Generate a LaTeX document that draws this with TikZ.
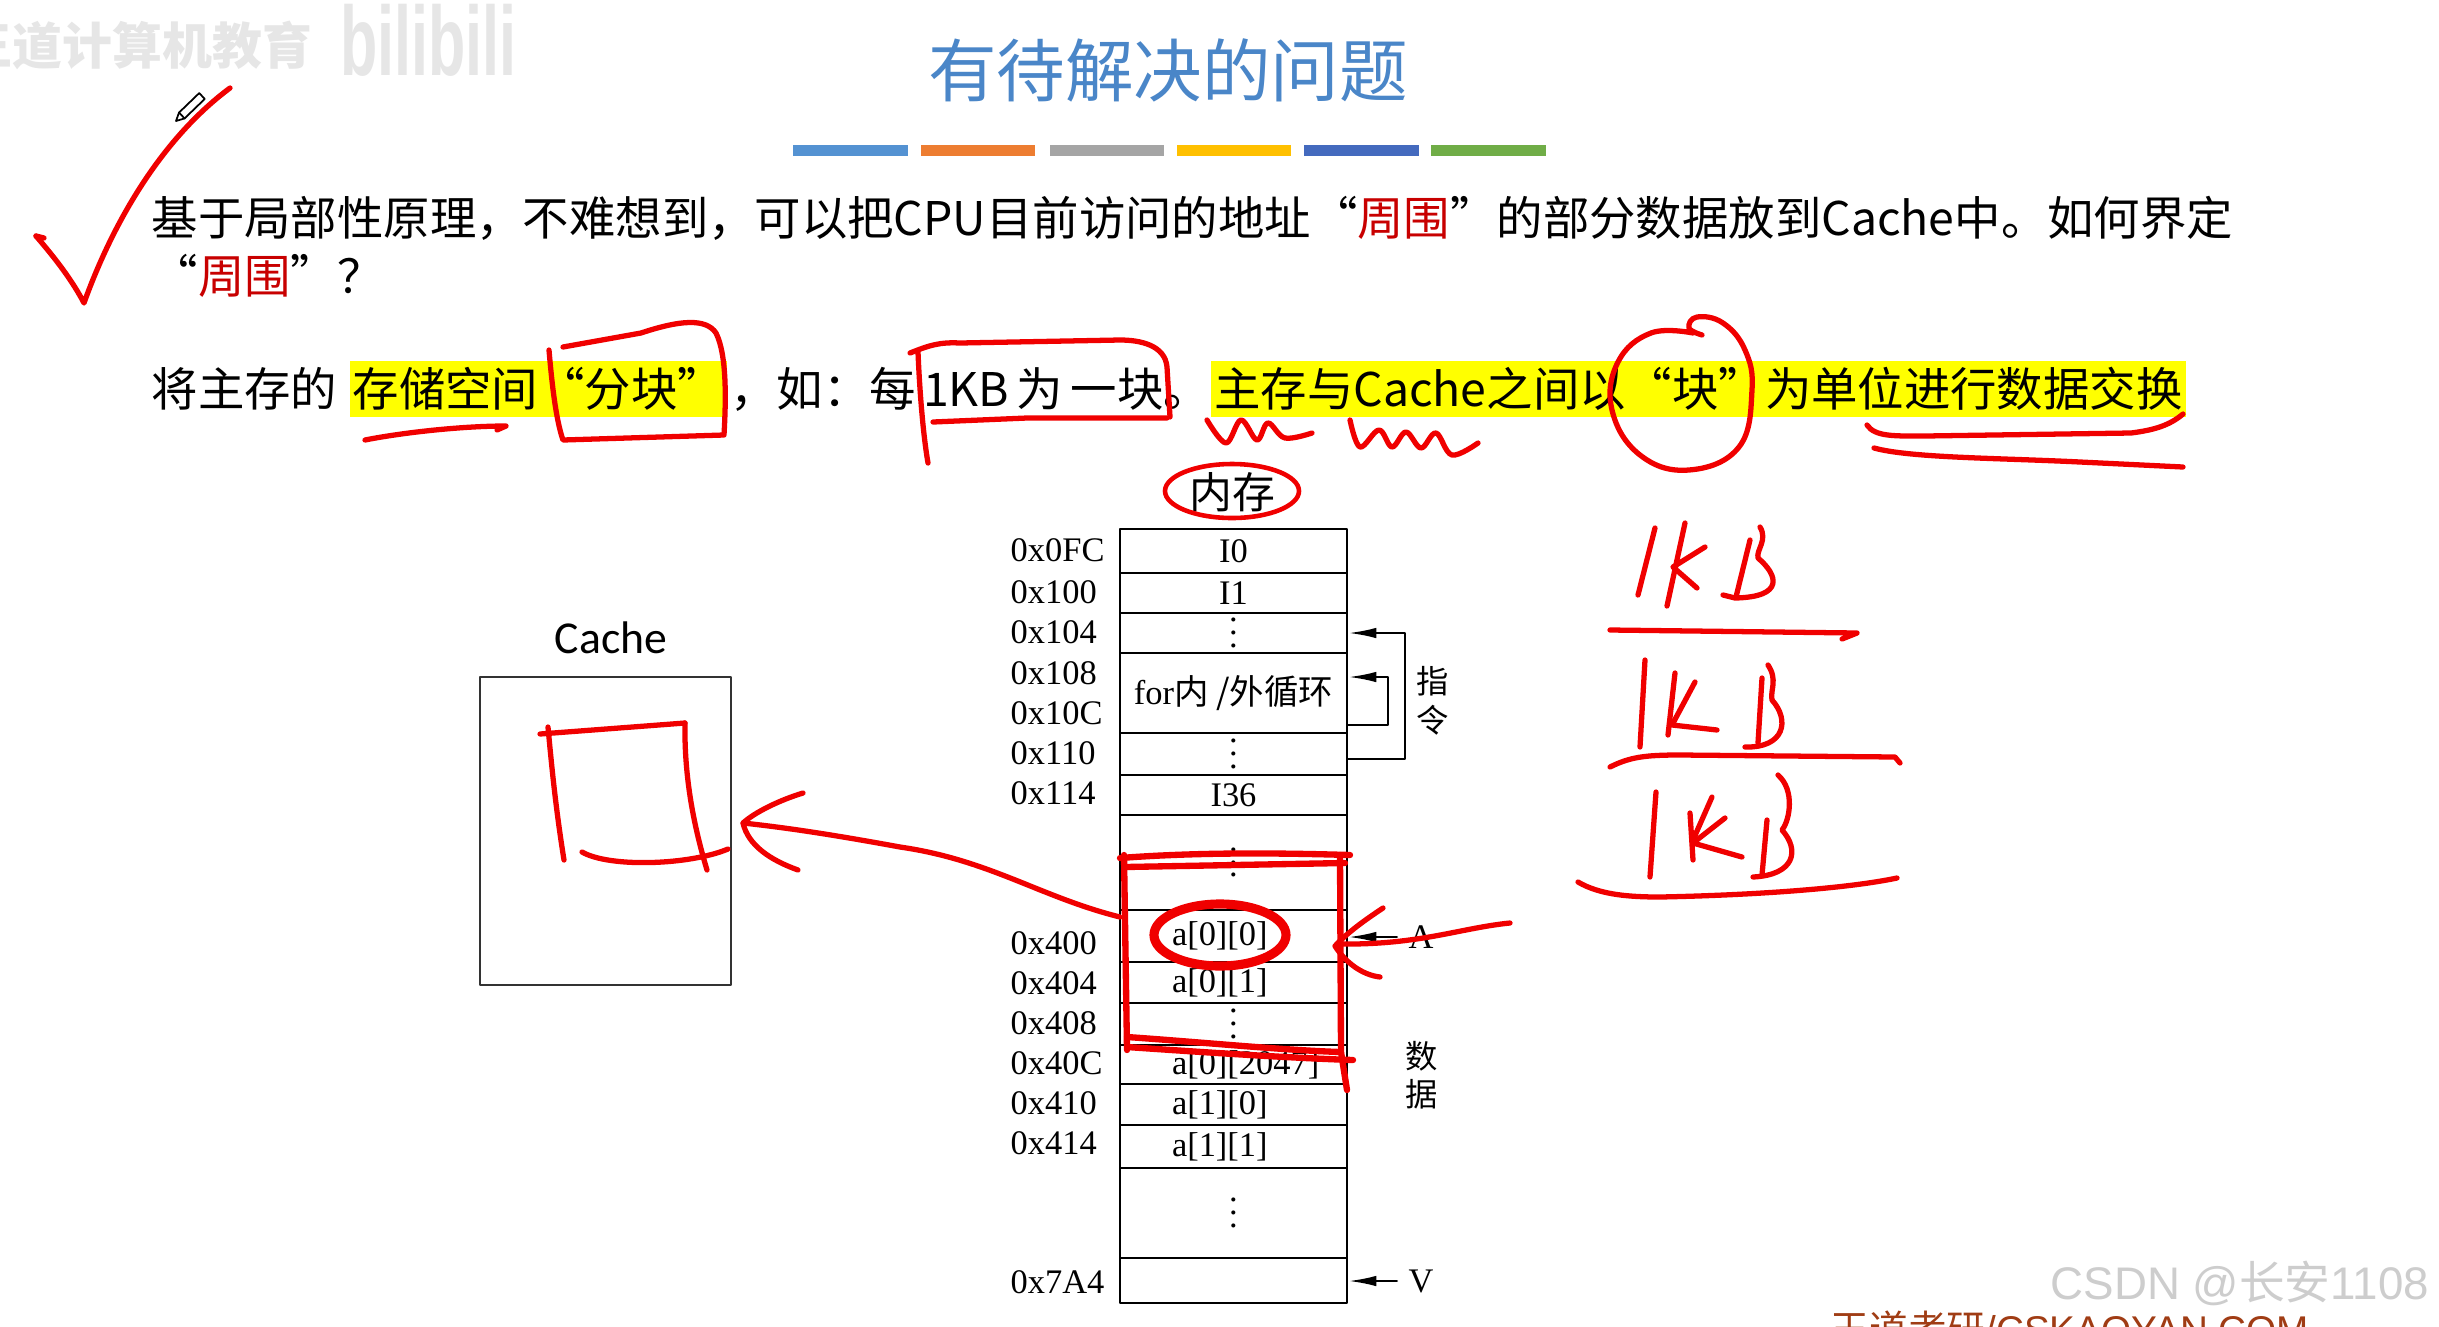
\documentclass[tikz,border=0pt]{standalone}
\usepackage{fontspec}
\setmainfont{Liberation Serif}
\newfontfamily\cjk{Noto Sans CJK SC}
\newfontfamily\calibri{Carlito}
\newfontfamily\arialsans{Liberation Sans}
\usetikzlibrary{arrows.meta,positioning}
\definecolor{titleblue}{RGB}{74,134,200}
\definecolor{barblue}{RGB}{84,146,210}
\definecolor{barorange}{RGB}{237,125,49}
\definecolor{bargray}{RGB}{165,165,165}
\definecolor{bargold}{RGB}{255,192,0}
\definecolor{bardeep}{RGB}{68,106,190}
\definecolor{bargreen}{RGB}{112,173,71}
\definecolor{hiyellow}{RGB}{255,255,0}
\definecolor{txtred}{RGB}{200,0,0}
\definecolor{inkred}{RGB}{240,0,0}
\definecolor{wmgray}{RGB}{230,230,230}
\definecolor{csdngray}{RGB}{205,205,205}
\definecolor{brandbrown}{RGB}{160,60,20}
\newcommand{\memsize}{\fontsize{9.8}{11}\selectfont}
\newcommand{\vdotcol}{\vbox{\baselineskip3.6pt\lineskiplimit0pt\hbox{.}\hbox{.}\hbox{.}}}

\begin{document}
\begin{tikzpicture}[x=0.1mm,y=-0.1mm,line cap=round,line join=round,
  every node/.style={inner sep=0pt},
  body/.style={font=\cjk\fontsize{13.2}{16}\selectfont,anchor=west},
  hilite/.style={fill=hiyellow,minimum height=5.6mm,inner xsep=0.3mm},
  cell/.style={draw,line width=0.7pt,minimum width=22.7mm,font=\memsize},
  datacell/.style={cell,text width=12.3mm,inner xsep=5.2mm,align=left},
  addr/.style={anchor=west,font=\memsize},
  ptr/.style={-{Latex[length=8pt,width=3pt]},line width=0.7pt},
  ink/.style={draw=inkred,line width=1.5pt}]
  \fill[white] (0,0) rectangle (2439,1326);
  \useasboundingbox (0,0) rectangle (2439,1326);

  % 水印
  \node[anchor=west,font=\cjk\bfseries\fontsize{14.2}{16}\selectfont,text=wmgray] (wmcn) at (-38,45) {王道计算机教育};
  \node[anchor=west,font=\arialsans\bfseries\fontsize{28}{30}\selectfont,text=wmgray,xscale=0.62] (wmbili) at (340,40) {bilibili};
  \node[anchor=west,font=\arialsans\fontsize{13}{15}\selectfont,text=csdngray] (csdn) at (2050,1283) {CSDN @{\cjk 长安}1108};
  \node[anchor=base west,font=\cjk\fontsize{11}{13}\selectfont,text=brandbrown] (brand) at (1830,1343) {王道考研{\arialsans /CSKAOYAN.COM}};

  % 标题与色条
  \node[font=\cjk\fontsize{19.5}{22}\selectfont,text=titleblue] (title) at (1168,70) {有待解决的问题};
  \fill[barblue] (793,145) rectangle (908,156);
  \fill[barorange] (921,145) rectangle (1035,156);
  \fill[bargray] (1050,145) rectangle (1164,156);
  \fill[bargold] (1177,145) rectangle (1291,156);
  \fill[bardeep] (1304,145) rectangle (1419,156);
  \fill[bargreen] (1431,145) rectangle (1546,156);

  % 正文
  \node[body] (q1) at (151,218) {基于局部性原理，不难想到，可以把CPU目前访问的地址“\textcolor{txtred}{周围}”的部分数据放到Cache中。如何界定};
  \node[body] (q1b) at (151,276) {“\textcolor{txtred}{周围}”？};
  \node[body] (s1) at (151,389) {将主存的};
  \node[body,hilite,right=1.1mm of s1] (s2) {存储空间“分块”};
  \node[body,right=0.2mm of s2] (s3) {，如：每\hspace{0.16em}1KB\hspace{0.16em}为\hspace{0.16em}一块。};
  \node[body,hilite,right=0pt of s3] (s4) {主存与Cache之间以“块”为单位进行数据交换};

  % 内存
  \node[font=\cjk\fontsize{12.2}{14}\selectfont] (memt) at (1232,492) {内存};
  \node[cell,minimum height=4.4mm] (m0) at (1233.5,551) {I0};
  \node[cell,minimum height=4.0mm] (m1) at (1233.5,593) {I1};
  \node[cell,minimum height=4.0mm] (m2) at (1233.5,633) {\vdotcol};
  \node[cell,minimum height=8.0mm] (m3) at (1233.5,693) {for{\cjk 内 /外循环}};
  \node[cell,minimum height=4.2mm] (m4) at (1233.5,754) {\vdotcol};
  \node[cell,minimum height=4.0mm] (m5) at (1233.5,795) {I36};
  \node[cell,minimum height=9.5mm] (m6) at (1233.5,862.5) {\vdotcol};
  \node[datacell,minimum height=5.2mm] (m7) at (1233.5,936) {a[0][0]};
  \node[datacell,minimum height=4.1mm] (m8) at (1233.5,982.5) {a[0][1]};
  \node[cell,minimum height=4.2mm] (m9) at (1233.5,1024) {\vdotcol};
  \node[datacell,minimum height=3.9mm] (m10) at (1233.5,1064.5) {a[0][2047]};
  \node[datacell,minimum height=4.1mm] (m11) at (1233.5,1104.5) {a[1][0]};
  \node[datacell,minimum height=4.3mm] (m12) at (1233.5,1146.5) {a[1][1]};
  \node[cell,minimum height=9.0mm] (m13) at (1233.5,1213) {\vdotcol};
  \node[cell,minimum height=4.5mm] (m14) at (1233.5,1280.5) {};

  \node[addr] (a0FC) at (1010,550) {0x0FC};
  \node[addr] (a100) at (1010,592) {0x100};
  \node[addr] (a104) at (1010,632) {0x104};
  \node[addr] (a108) at (1010,673) {0x108};
  \node[addr] (a10C) at (1010,713) {0x10C};
  \node[addr] (a110) at (1010,753) {0x110};
  \node[addr] (a114) at (1010,793) {0x114};
  \node[addr] (a400) at (1010,943) {0x400};
  \node[addr] (a404) at (1010,983) {0x404};
  \node[addr] (a408) at (1010,1023) {0x408};
  \node[addr] (a40C) at (1010,1063) {0x40C};
  \node[addr] (a410) at (1010,1103) {0x410};
  \node[addr] (a414) at (1010,1143) {0x414};
  \node[addr] (a7A4) at (1010,1282) {0x7A4};

  \draw[ptr] ([yshift=-0.5mm]m4.east) -- ++(57,0) |- (m2.east);
  \draw[ptr] ([yshift=-3.2mm]m3.east) -- ++(40,0) |- ([yshift=1.6mm]m3.east);
  \node[font=\cjk\fontsize{9.2}{11}\selectfont,align=center] (instr) at (1433,701) {指\\令};
  \node[font=\cjk\fontsize{9.2}{10.8}\selectfont,align=center] (datal) at (1422,1075) {数\\据};
  \node[font=\memsize] (lblA) at (1421,937) {A};
  \draw[ptr] ([xshift=-1.1mm]lblA.west) -- (lblA.west -| m7.east);
  \node[font=\memsize] (lblV) at (1421,1281) {V};
  \draw[ptr] ([xshift=-1.1mm]lblV.west) -- (lblV.west -| m14.east);

  % Cache
  \node[draw=black!80,line width=0.8pt,minimum width=25.1mm,minimum height=30.8mm] (cache) at (605.5,831) {};
  \node[font=\calibri\fontsize{13}{15}\selectfont] (cachet) at (611,638) {Cache};

  % 红笔批注
  \draw[ink] (36,236) .. controls (55,258) and (72,280) .. (84,303) .. controls (112,225) and (160,140) .. (230,88);
  \draw[ink] (36,236) -- (44,238);
  \draw[line width=0.5pt] (176,121) -- (184.6,118.4) -- (204.8,98.9) -- (199.2,93.1) -- (179,112.6) -- cycle;
  \draw[line width=0.5pt] (184.6,118.4) -- (179,112.6);

  \draw[ink] (365,440) .. controls (400,433) and (460,426) .. (506,426) -- (497,430);
  \draw[ink] (549,350) .. controls (552,385) and (556,420) .. (563,440) -- (724,435)
    .. controls (726,400) and (727,355) .. (716,333) .. controls (706,318) and (680,320) .. (641,333) -- (563,347);
  \draw[ink] (918,352) .. controls (920,400) and (924,440) .. (928,463);
  \draw[ink] (910,353) .. controls (930,345) and (940,342) .. (960,343) -- (1120,340)
    .. controls (1140,340) and (1165,345) .. (1167,367) -- (1170,417);
  \draw[ink] (933,422) -- (1027,418) -- (1167,418);
  \draw[ink] plot[smooth,tension=0.6] coordinates {(1207,420) (1226,443) (1241,420) (1257,440) (1268,423) (1285,438) (1312,433)};
  \draw[ink] plot[smooth,tension=0.6] coordinates {(1350,420) (1360,447) (1379,430) (1392,447) (1406,432) (1421,448) (1436,433) (1452,455) (1478,443)};
  \draw[ink] plot[smooth,tension=0.7] coordinates {(1702,335) (1689,328) (1697,317) (1723,323) (1745,350) (1752,390) (1739,447) (1689,470) (1640,455) (1612,410) (1618,362) (1651,333) (1693,333)};
  \draw[ink] (1867,425) .. controls (1875,437) and (1895,436) .. (1925,436) -- (2131,433) .. controls (2155,430) and (2170,425) .. (2183,414);
  \draw[ink] (1874,448) .. controls (1910,458) and (2000,458) .. (2080,462) -- (2183,467);

  \draw[ink,line width=1.3pt] (1232,491) ellipse[x radius=6.7mm,y radius=2.7mm];

  \draw[ink,line width=1.8pt] (1120,858) .. controls (1200,852) and (1280,853) .. (1350,855);
  \draw[ink,line width=1.8pt] (1125,867) -- (1345,863);
  \draw[ink,line width=1.8pt] (1124,855) -- (1127,1050);
  \draw[ink,line width=1.8pt] (1340,855) -- (1341,1052) -- (1347,1090);
  \draw[ink,line width=1.8pt] (1127,1037) .. controls (1200,1042) and (1280,1050) .. (1340,1052);
  \draw[ink,line width=1.8pt] (1127,1047) .. controls (1200,1052) and (1290,1058) .. (1353,1060);
  \draw[ink,line width=2.6pt] (1220,935) ellipse[x radius=6.6mm,y radius=3.1mm];

  \draw[ink] (1120,917) .. controls (1040,897) and (990,860) .. (900,847) .. controls (840,836) and (790,828) .. (743,823);
  \draw[ink] (803,793) .. controls (780,800) and (755,812) .. (743,823) .. controls (748,845) and (770,860) .. (798,870);

  \draw[ink] (1510,923) .. controls (1460,928) and (1420,945) .. (1340,944);
  \draw[ink] (1383,908) .. controls (1365,920) and (1348,932) .. (1335,946) .. controls (1345,962) and (1362,975) .. (1380,977);

  \draw[ink] (540,734) -- (685,723);
  \draw[ink] (548,727) .. controls (552,770) and (556,810) .. (564,860);
  \draw[ink] (685,723) .. controls (684,780) and (695,830) .. (707,870);
  \draw[ink] (582,852) .. controls (610,868) and (690,865) .. (728,849);

  % 1KB 分块
  \draw[ink] (1655,528) -- (1638,595);
  \draw[ink] (1685,523) -- (1667,606);
  \draw[ink] (1705,547) -- (1673,567) -- (1697,588);
  \draw[ink] (1750,540) -- (1736,597);
  \draw[ink] (1760,527) .. controls (1768,540) and (1756,550) .. (1758,558) .. controls (1778,575) and (1785,597) .. (1735,598) -- (1723,595);
  \draw[ink] (1610,630) -- (1857,633) -- (1842,639);
  \draw[ink] (1645,660) -- (1640,747);
  \draw[ink] (1675,673) -- (1668,735);
  \draw[ink] (1695,682) -- (1672,725) -- (1717,730);
  \draw[ink] (1762,678) -- (1758,743);
  \draw[ink] (1768,665) .. controls (1778,680) and (1770,690) .. (1772,700) .. controls (1790,720) and (1785,748) .. (1745,747);
  \draw[ink] (1610,767) .. controls (1630,757) and (1645,755) .. (1680,755) -- (1895,757) -- (1900,763);
  \draw[ink] (1656,792) -- (1650,877);
  \draw[ink] (1690,813) -- (1693,860);
  \draw[ink] (1712,797) -- (1693,840);
  \draw[ink] (1725,818) -- (1693,843) -- (1742,857);
  \draw[ink] (1767,820) -- (1762,875);
  \draw[ink] (1778,775) .. controls (1795,790) and (1790,820) .. (1782,830) .. controls (1800,850) and (1795,875) .. (1753,877);
  \draw[ink] (1578,882) .. controls (1600,895) and (1630,897) .. (1660,897) .. controls (1760,895) and (1850,888) .. (1897,878);
\end{tikzpicture}
\end{document}
